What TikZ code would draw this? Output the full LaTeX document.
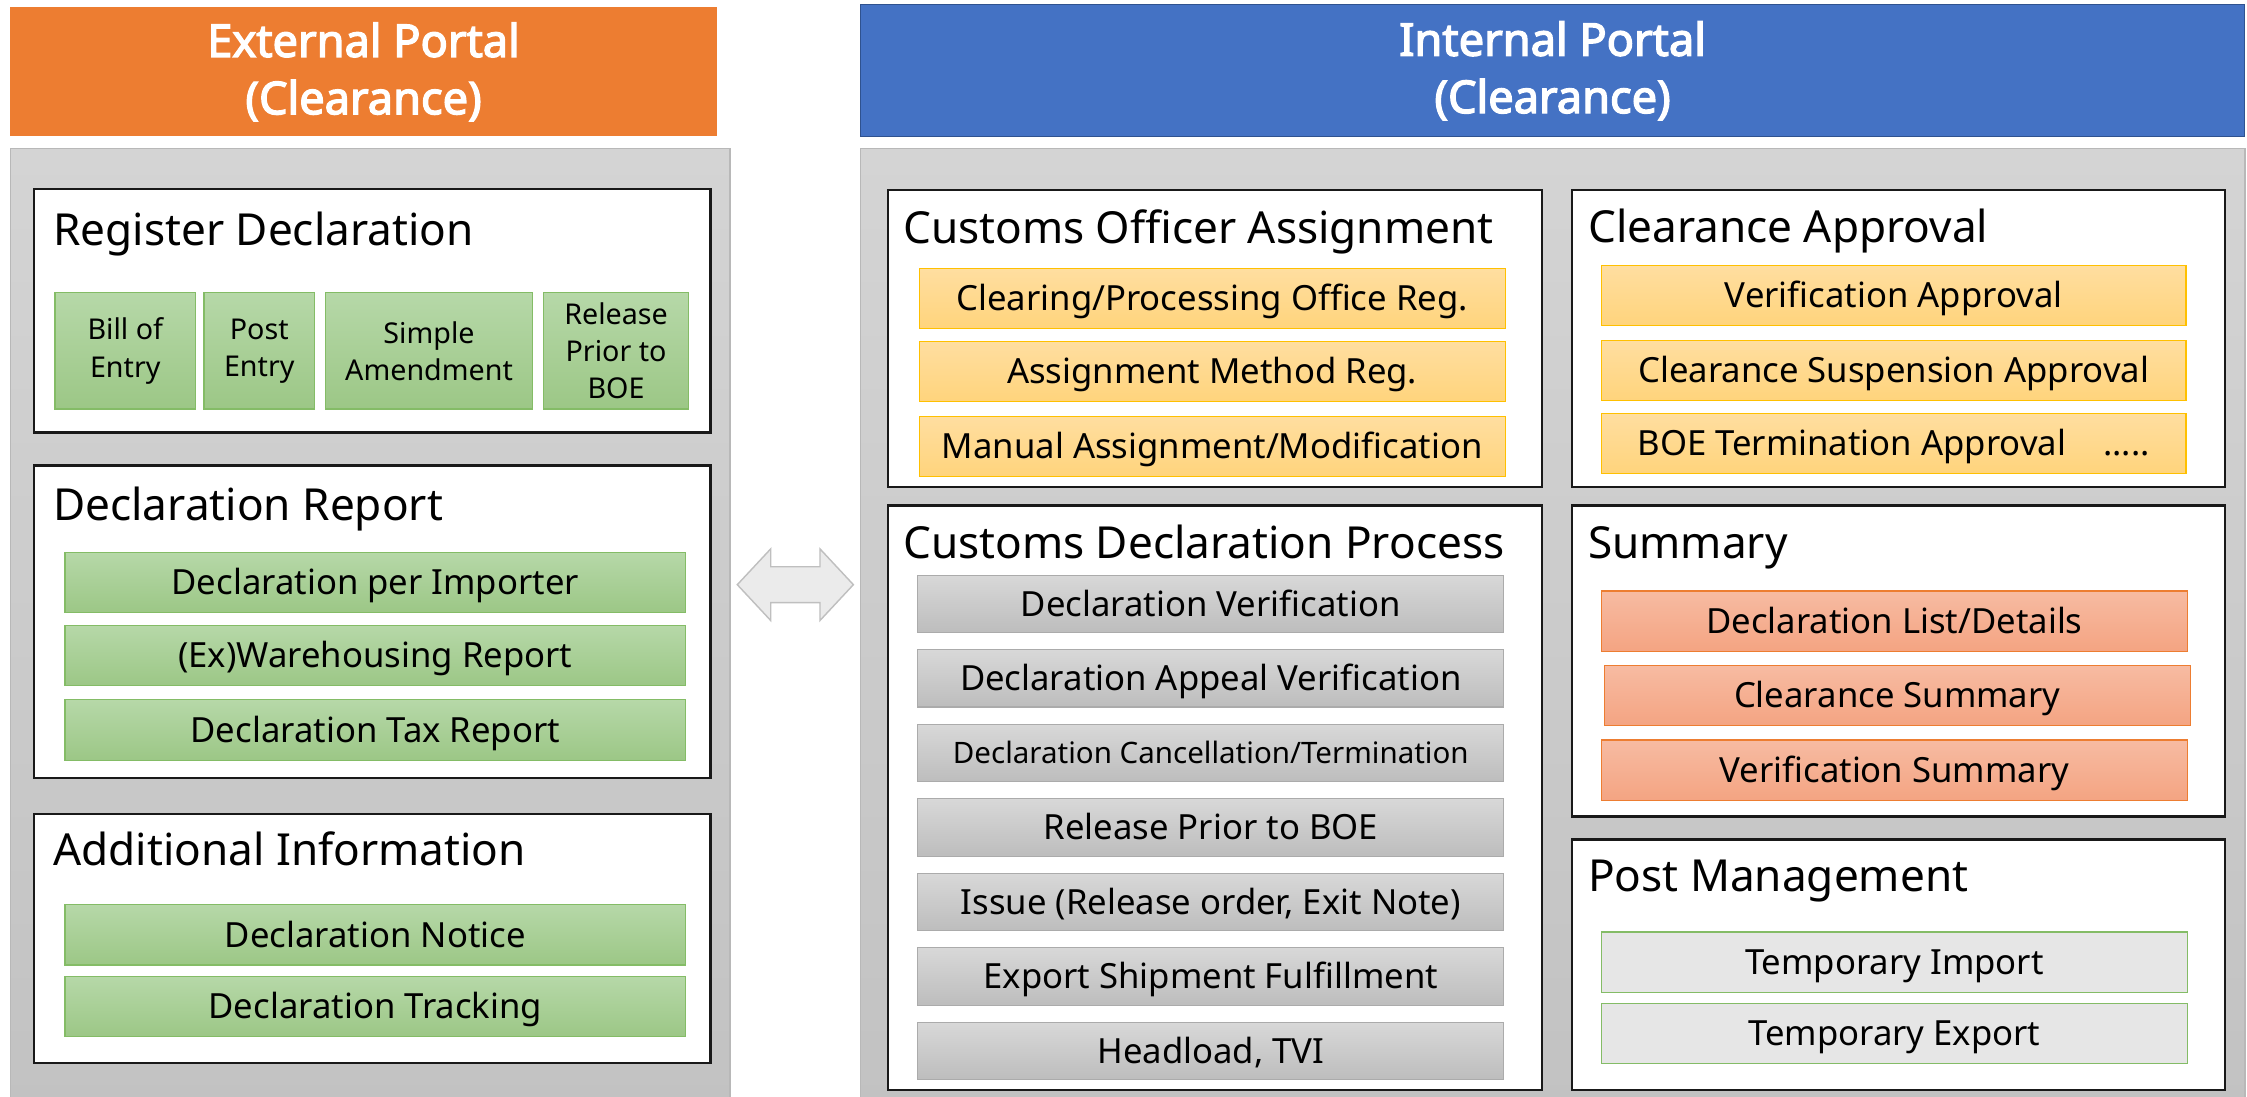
\documentclass[tikz,border=0pt]{standalone}
\usepackage{fontspec}
\setmainfont{Noto Sans}
\newfontfamily\hdrfamily{Noto Sans}[FakeBold=3]
\usepackage{xcolor}
\usetikzlibrary{shapes,positioning}

\definecolor{hdrorange}{HTML}{ED7D31}
\definecolor{hdrblue}{HTML}{4472C4}
\definecolor{hdrblueline}{HTML}{2F528F}
\definecolor{paneltop}{HTML}{D4D4D4}
\definecolor{panelbot}{HTML}{C2C2C2}
\definecolor{panelline}{HTML}{B8B8B8}
\definecolor{greentop}{HTML}{B6D8A8}
\definecolor{greenbot}{HTML}{9CC786}
\definecolor{greenline}{HTML}{84BC66}
\definecolor{yellowtop}{HTML}{FFDEA0}
\definecolor{yellowbot}{HTML}{FFD47C}
\definecolor{yellowline}{HTML}{FFC000}
\definecolor{graytop}{HTML}{D8D8D8}
\definecolor{graybot}{HTML}{BDBDBD}
\definecolor{grayline}{HTML}{ABABAB}
\definecolor{salmontop}{HTML}{F7BBA2}
\definecolor{salmonbot}{HTML}{F4A482}
\definecolor{salmonline}{HTML}{ED7D31}
\definecolor{paleitem}{HTML}{E6E6E6}
\definecolor{arrowfill}{HTML}{EBEBEB}
\definecolor{arrowline}{HTML}{BFBFBF}

\newcommand{\hdrfont}{\hdrfamily\fontsize{31.5}{40}\selectfont}
\newcommand{\titlefont}{\fontsize{30.8}{34}\selectfont}
\newcommand{\itemfont}{\fontsize{24.2}{26}\selectfont}
\newcommand{\smallitemfont}{\fontsize{20.6}{24}\selectfont}
\newcommand{\tilefont}{\fontsize{20}{26}\selectfont}

\tikzset{
  header/.style={anchor=north west, inner sep=0pt, text=white, align=center, font=\hdrfont},
  panel/.style={anchor=north west, inner sep=0pt, draw=panelline, line width=1pt, top color=paneltop, bottom color=panelbot},
  group/.style={anchor=north west, inner sep=0pt, draw=black!90, line width=1.6pt, fill=white},
  grouptitle/.style={anchor=base west, inner sep=0pt, font=\titlefont},
  bar/.style={anchor=north west, inner sep=0pt, line width=0.8pt, minimum height=42pt, font=\itemfont,
              text height=20pt, text depth=3pt},
  greenbar/.style={bar, draw=greenline, top color=greentop, bottom color=greenbot},
  yellowbar/.style={bar, draw=yellowline, top color=yellowtop, bottom color=yellowbot},
  graybar/.style={bar, draw=grayline, top color=graytop, bottom color=graybot, minimum height=40pt},
  salmonbar/.style={bar, draw=salmonline, top color=salmontop, bottom color=salmonbot},
  palebar/.style={bar, draw=greenline, fill=paleitem},
  tile/.style={greenbar, minimum height=81pt, align=center, font=\tilefont, text height=, text depth=}
}

\begin{document}
\begin{tikzpicture}[x=1pt, y=-1pt]
    \useasboundingbox (0,0) rectangle (1568,765);

    % Headers
    \node[header, fill=hdrorange, minimum width=493pt, minimum height=90pt] (exthdr) at (7,5) {External Portal\\(Clearance)};
    \node[header, fill=hdrblue, draw=hdrblueline, line width=0.8pt, minimum width=966pt, minimum height=92pt] (inthdr) at (600,3) {Internal Portal\\(Clearance)};

    % Panels
    \node[panel, minimum width=502pt, minimum height=672pt] (extpanel) at (7,103) {};
    \node[panel, minimum width=966pt, minimum height=672pt] (intpanel) at (600,103) {};

    % Link between portals
    \node[double arrow, draw=arrowline, fill=arrowfill, line width=1pt, inner sep=12pt,
          minimum height=81pt, double arrow head extend=12.5pt, double arrow tip angle=94] (link) at (555,408) {};

    % Register Declaration
    \node[group, minimum width=472pt, minimum height=170pt] (regdecl) at (23,131) {};
    \node[grouptitle] (regtitle) at (37,171) {Register Declaration};
    \node[tile, minimum width=98pt] (billentry) at (38,204) {Bill of\\Entry};
    \node[tile, minimum width=77pt] (postentry) at (142,204) {Post\\Entry};
    \node[tile, minimum width=144pt] (simpleamend) at (227,204) {Simple\\Amendment};
    \node[tile, minimum width=101pt] (releaseboe) at (379,204) {Release\\Prior to\\BOE};

    % Declaration Report
    \node[group, minimum width=472pt, minimum height=218pt] (declrep) at (23,324) {};
    \node[grouptitle] (reptitle) at (37,363) {Declaration Report};
    \node[greenbar, minimum width=433pt] (perimporter) at (45,385) {Declaration per Importer};
    \node[greenbar, minimum width=433pt] (warehousing) at (45,436) {(Ex)Warehousing Report};
    \node[greenbar, minimum width=433pt] (taxreport) at (45,488) {Declaration Tax Report};

    % Additional Information
    \node[group, minimum width=472pt, minimum height=174pt] (addinfo) at (23,567) {};
    \node[grouptitle] (addtitle) at (37,604) {Additional Information};
    \node[greenbar, minimum width=433pt] (notice) at (45,631) {Declaration Notice};
    \node[greenbar, minimum width=433pt] (tracking) at (45,681) {Declaration Tracking};

    % Customs Officer Assignment
    \node[group, minimum width=456pt, minimum height=207pt] (officer) at (619,132) {};
    \node[grouptitle] (officertitle) at (630,170) {Customs Officer Assignment};
    \node[yellowbar, minimum width=409pt] (officereg) at (641,187) {Clearing/Processing Office Reg.};
    \node[yellowbar, minimum width=409pt] (methodreg) at (641,238) {Assignment Method Reg.};
    \node[yellowbar, minimum width=409pt] (manualassign) at (641,290) {Manual Assignment/Modification};

    % Clearance Approval
    \node[group, minimum width=456pt, minimum height=207pt] (approval) at (1096,132) {};
    \node[grouptitle] (approvaltitle) at (1108,169) {Clearance Approval};
    \node[yellowbar, minimum width=408pt] (verifapp) at (1117,185) {Verification Approval};
    \node[yellowbar, minimum width=408pt] (suspapp) at (1117,237) {Clearance Suspension Approval};
    \node[yellowbar, minimum width=408pt] (termapp) at (1117,288) {BOE Termination Approval\hspace{26pt}.....};

    % Customs Declaration Process
    \node[group, minimum width=456pt, minimum height=408pt] (process) at (619,352) {};
    \node[grouptitle] (processtitle) at (630,390) {Customs Declaration Process};
    \node[graybar, minimum width=409pt] (verification) at (640,401) {Declaration Verification};
    \node[graybar, minimum width=409pt] (appeal) at (640,453) {Declaration Appeal Verification};
    \node[graybar, minimum width=409pt, font=\smallitemfont, text height=17pt, text depth=2.3pt] (cancel) at (640,505) {Declaration Cancellation/Termination};
    \node[graybar, minimum width=409pt] (priorboe) at (640,557) {Release Prior to BOE};
    \node[graybar, minimum width=409pt] (issue) at (640,609) {Issue (Release order, Exit Note)};
    \node[graybar, minimum width=409pt] (shipment) at (640,661) {Export Shipment Fulfillment};
    \node[graybar, minimum width=409pt] (headload) at (640,713) {Headload, TVI};

    % Summary
    \node[group, minimum width=456pt, minimum height=217pt] (summary) at (1096,352) {};
    \node[grouptitle] (summarytitle) at (1108,390) {Summary};
    \node[salmonbar, minimum width=409pt] (decllist) at (1117,412) {Declaration List/Details};
    \node[salmonbar, minimum width=409pt] (clearsumm) at (1119,464) {Clearance Summary};
    \node[salmonbar, minimum width=409pt] (verifsumm) at (1117,516) {Verification Summary};

    % Post Management
    \node[group, minimum width=456pt, minimum height=175pt] (postmgmt) at (1096,585) {};
    \node[grouptitle] (posttitle) at (1108,622) {Post Management};
    \node[palebar, minimum width=409pt] (tempimport) at (1117,650) {Temporary Import};
    \node[palebar, minimum width=409pt] (tempexport) at (1117,700) {Temporary Export};
\end{tikzpicture}
\end{document}
